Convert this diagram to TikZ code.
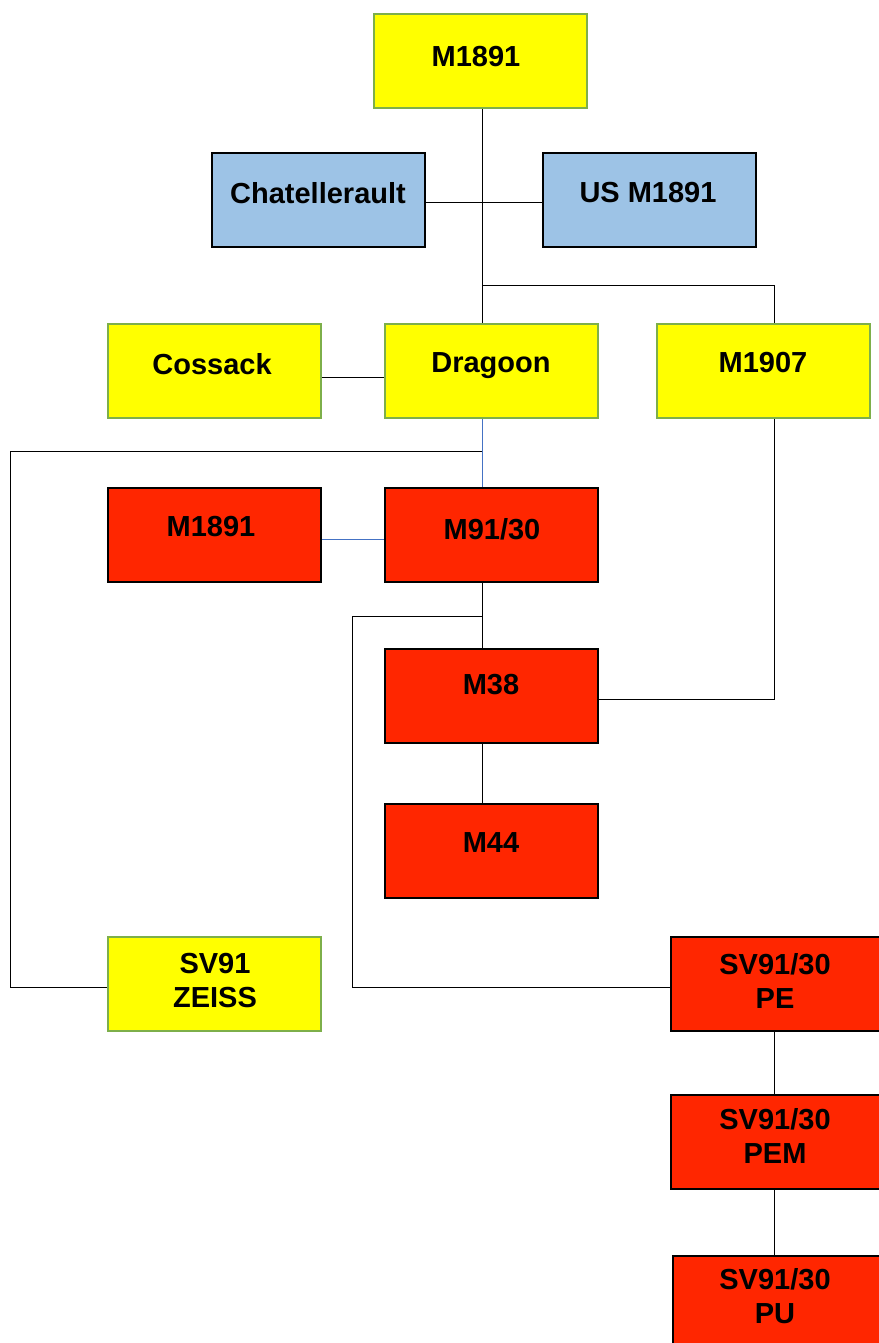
\documentclass[tikz,border=0pt]{standalone}
\usepackage{fontspec}
\setmainfont{Liberation Sans}
\definecolor{yel}{HTML}{FFFF00}
\definecolor{grn}{HTML}{7DAF4A}
\definecolor{redf}{HTML}{FF2600}
\definecolor{bluf}{HTML}{9DC3E6}
\definecolor{blul}{HTML}{4472C4}
\begin{document}
\begin{tikzpicture}[x=1pt,y=-1pt,
  box/.style={draw, line width=1.8pt, minimum width=213pt, minimum height=94pt, inner sep=0pt, anchor=north west},
  ybox/.style={box, fill=yel, draw=grn},
  rbox/.style={box, fill=redf, draw=black},
  bbox/.style={box, fill=bluf, draw=black},
  lbl/.style={font=\fontsize{29}{34}\selectfont\bfseries, align=center, inner sep=0pt},
  conn/.style={line width=0.9pt, black},
  bconn/.style={line width=0.9pt, blul}]
\useasboundingbox (0,0) rectangle (878,1343);
% boxes
\node[ybox] (m1891) at (373,13) {};
\node[bbox] (chat) at (211,152) {};
\node[bbox] (us) at (542,152) {};
\node[ybox] (coss) at (107,323) {};
\node[ybox] (drag) at (384,323) {};
\node[ybox] (m1907) at (656,323) {};
\node[rbox] (m1891r) at (107,487) {};
\node[rbox] (m9130) at (384,487) {};
\node[rbox] (m38) at (384,648) {};
\node[rbox] (m44) at (384,803) {};
\node[ybox] (zeiss) at (107,936) {};
\node[rbox] (pe) at (670,936) {};
\node[rbox] (pem) at (670,1094) {};
\node[rbox] (pu) at (672,1255) {};
% labels
\node[lbl] (t1) at (476,57) {M1891};
\node[lbl] (t2) at (318,193) {Chatellerault};
\node[lbl] (t3) at (648,193) {US M1891};
\node[lbl] (t4) at (212,364) {Cossack};
\node[lbl] (t5) at (491,366) {Dragoon};
\node[lbl] (t6) at (763,363) {M1907};
\node[lbl] (t7) at (211,527) {M1891};
\node[lbl] (t8) at (492,529) {M91/30};
\node[lbl] (t9) at (491,685) {M38};
\node[lbl] (t10) at (491,843) {M44};
\node[lbl] (t11) at (215,981) {SV91\\ZEISS};
\node[lbl] (t12) at (775,981) {SV91/30\\PE};
\node[lbl] (t13) at (775,1136) {SV91/30\\PEM};
\node[lbl] (t14) at (775,1296) {SV91/30\\PU};
% routing points
\coordinate (a) at (482,285);
\coordinate (b) at (774,285);
\coordinate (c) at (482,451);
\coordinate (d) at (10,451);
\coordinate (e) at (482,616);
\coordinate (f) at (352,616);
% connectors
\draw[conn] (a |- m1891.south) -- (a |- drag.north);
\draw[conn] (a) -- (b) -- (b |- m1907.north);
\draw[conn] ([yshift=-3pt]chat.east) -- ([yshift=-3pt]us.west);
\draw[conn] ([yshift=-7pt]coss.east) -- ([yshift=-7pt]drag.west);
\draw[bconn] (a |- drag.south) -- (a |- m9130.north);
\draw[conn] (c) -- (d) |- ([yshift=-4pt]zeiss.west);
\draw[bconn] ([yshift=-5pt]m1891r.east) -- ([yshift=-5pt]m9130.west);
\draw[conn] (a |- m9130.south) -- (a |- m38.north);
\draw[conn] (e) -- (f) |- ([yshift=-4pt]pe.west);
\draw[conn] (b |- m1907.south) |- ([yshift=-4pt]m38.east);
\draw[conn] (a |- m38.south) -- (a |- m44.north);
\draw[conn] (b |- pe.south) -- (b |- pem.north);
\draw[conn] (b |- pem.south) -- (b |- pu.north);
\end{tikzpicture}
\end{document}
